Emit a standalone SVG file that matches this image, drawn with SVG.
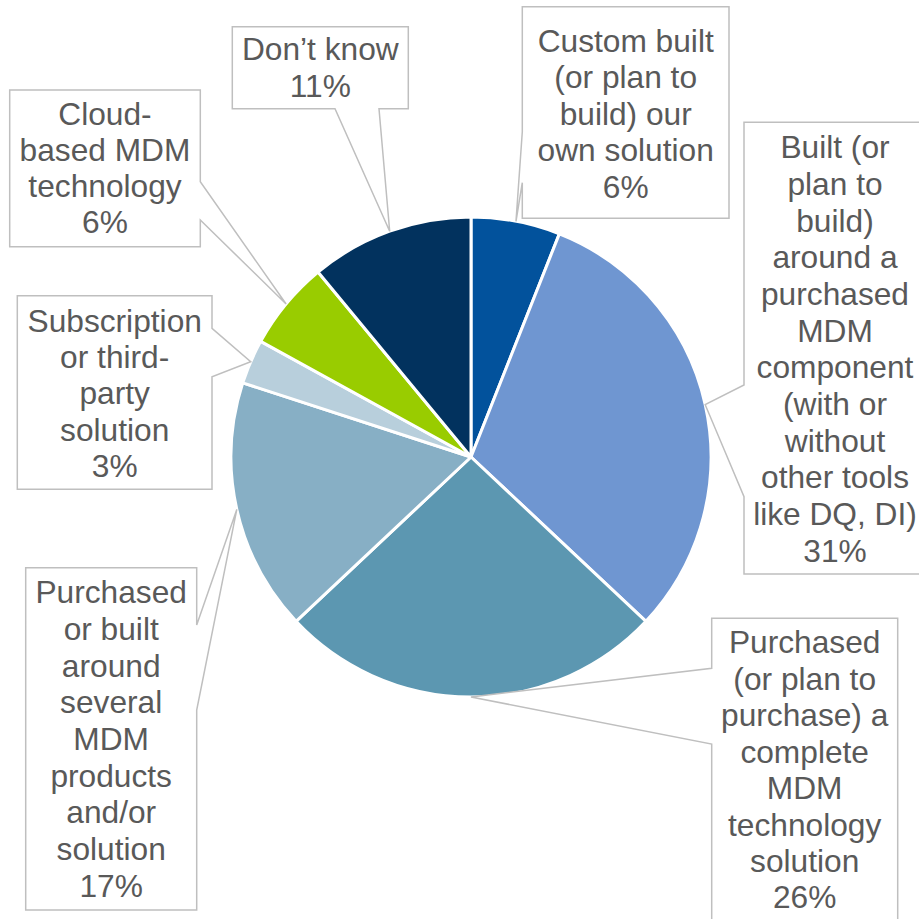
<svg xmlns="http://www.w3.org/2000/svg" width="919" height="919" viewBox="0 0 919 919">
<style>
.sl{stroke:#FFFFFF;stroke-width:3;stroke-linejoin:round}
.co{fill:#FFFFFF;stroke:#BFBFBF;stroke-width:1.5;stroke-linejoin:miter}
.tx{font-family:"Liberation Sans",Arial,sans-serif;font-size:31.7px;fill:#595959;text-anchor:middle}
</style>
<rect width="919" height="919" fill="#FFFFFF"/>
<g id="pie">
<g id="slice-custom"><path class="sl" fill="#02529C" d="M471,457 L471,217 A240,240 0 0 1 559.35,233.85 Z"/></g>
<g id="slice-built"><path class="sl" fill="#6F96D1" d="M471,457 L559.35,233.85 A240,240 0 0 1 645.95,621.29 Z"/></g>
<g id="slice-complete"><path class="sl" fill="#5C97B1" d="M471,457 L645.95,621.29 A240,240 0 0 1 296.05,621.29 Z"/></g>
<g id="slice-several"><path class="sl" fill="#87AFC5" d="M471,457 L296.05,621.29 A240,240 0 0 1 242.75,382.84 Z"/></g>
<g id="slice-subscription"><path class="sl" fill="#B8CFDC" d="M471,457 L242.75,382.84 A240,240 0 0 1 260.69,341.38 Z"/></g>
<g id="slice-cloud"><path class="sl" fill="#99CC00" d="M471,457 L260.69,341.38 A240,240 0 0 1 318.02,272.08 Z"/></g>
<g id="slice-dontknow"><path class="sl" fill="#02325E" d="M471,457 L318.02,272.08 A240,240 0 0 1 471,217 Z"/></g>
</g>
<g id="connectors">
<g id="label-custom">
<polygon class="co" points="522.3,6.7 729,6.7 729,218.3 522.3,218.3 522.3,182.7 516,221.3 522.3,131.7"/>
<text class="tx"><tspan x="625.7" y="51.7">Custom built</tspan><tspan x="625.7" y="88.2">(or plan to</tspan><tspan x="625.7" y="124.7">build) our</tspan><tspan x="625.7" y="161.2">own solution</tspan><tspan x="625.7" y="197.7">6%</tspan></text>
</g>
<g id="label-built">
<polygon class="co" points="744,122.3 930,122.3 930,574 744,574 744,496.7 705.2,404.7 744,385"/>
<text class="tx"><tspan x="835" y="158.3">Built (or</tspan><tspan x="835" y="195">plan to</tspan><tspan x="835" y="231.6">build)</tspan><tspan x="835" y="268.3">around a</tspan><tspan x="835" y="305">purchased</tspan><tspan x="835" y="341.6">MDM</tspan><tspan x="835" y="378.3">component</tspan><tspan x="835" y="415">(with or</tspan><tspan x="835" y="451.7">without</tspan><tspan x="835" y="488.3">other tools</tspan><tspan x="835" y="525">like DQ, DI)</tspan><tspan x="835" y="561.7">31%</tspan></text>
</g>
<g id="label-complete">
<polygon class="co" points="711.7,618.3 897.7,618.3 897.7,930 711.7,930 711.7,744 471,697 711.7,668.3"/>
<text class="tx"><tspan x="804.7" y="653.3">Purchased</tspan><tspan x="804.7" y="689.7">(or plan to</tspan><tspan x="804.7" y="726.2">purchase) a</tspan><tspan x="804.7" y="762.6">complete</tspan><tspan x="804.7" y="799">MDM</tspan><tspan x="804.7" y="835.5">technology</tspan><tspan x="804.7" y="871.9">solution</tspan><tspan x="804.7" y="908.3">26%</tspan></text>
</g>
<g id="label-several">
<polygon class="co" points="25.7,567.7 196.7,567.7 196.7,625 236.8,509.4 196.7,710 196.7,910 25.7,910"/>
<text class="tx"><tspan x="111.2" y="603.3">Purchased</tspan><tspan x="111.2" y="640">or built</tspan><tspan x="111.2" y="676.6">around</tspan><tspan x="111.2" y="713.3">several</tspan><tspan x="111.2" y="750">MDM</tspan><tspan x="111.2" y="786.6">products</tspan><tspan x="111.2" y="823.3">and/or</tspan><tspan x="111.2" y="860">solution</tspan><tspan x="111.2" y="896.7">17%</tspan></text>
</g>
<g id="label-subscription">
<polygon class="co" points="17.3,295.7 212,295.7 212,328.3 250.7,361.7 212,376.7 212,489.3 17.3,489.3"/>
<text class="tx"><tspan x="114.7" y="331.7">Subscription</tspan><tspan x="114.7" y="368">or third-</tspan><tspan x="114.7" y="404.2">party</tspan><tspan x="114.7" y="440.5">solution</tspan><tspan x="114.7" y="476.7">3%</tspan></text>
</g>
<g id="label-cloud">
<polygon class="co" points="9.7,90 200.3,90 200.3,181.7 286.1,304 200.3,220 200.3,246.7 9.7,246.7"/>
<text class="tx"><tspan x="105" y="125">Cloud-</tspan><tspan x="105" y="161.1">based MDM</tspan><tspan x="105" y="197.2">technology</tspan><tspan x="105" y="233.3">6%</tspan></text>
</g>
<g id="label-dontknow">
<polygon class="co" points="232.3,26.7 408.3,26.7 408.3,108.7 379,108.7 389.7,231.2 335,108.7 232.3,108.7"/>
<text class="tx"><tspan x="320.3" y="60">Don’t know</tspan><tspan x="320.3" y="96.7">11%</tspan></text>
</g>
</g>
</svg>
